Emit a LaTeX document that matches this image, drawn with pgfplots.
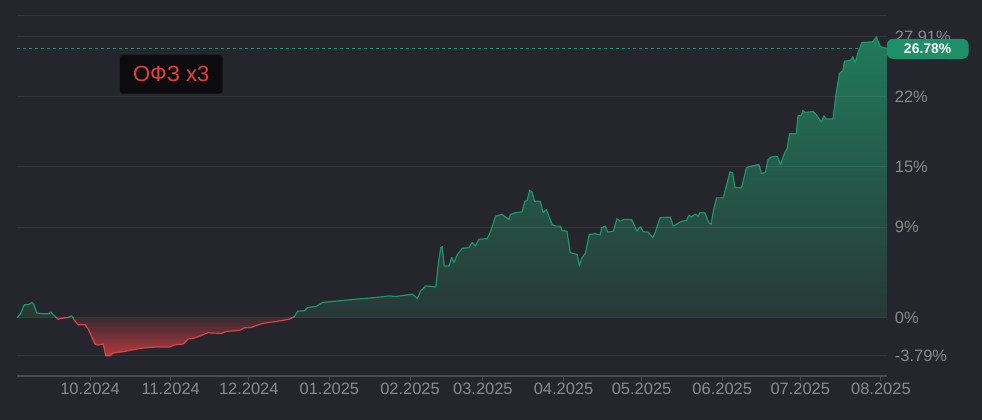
\documentclass[border=0pt]{standalone}
\usepackage{pgfplots}
\pgfplotsset{compat=1.18}
\usepackage{pgfplotstable}
\usepackage{fontspec}
\setmainfont{Liberation Sans}
\definecolor{bg}{HTML}{25262D}
\definecolor{axcol}{HTML}{4B4C52}
\definecolor{labcol}{HTML}{8A8B90}
\definecolor{gline}{HTML}{1D966B}
\definecolor{rline}{HTML}{DE4242}
\definecolor{gtop}{HTML}{217A5B}
\definecolor{gbot}{HTML}{283836}
\definecolor{rtop}{HTML}{3A2A30}
\definecolor{rbot}{HTML}{B23A3F}
\definecolor{badge}{HTML}{1D9068}
\definecolor{titlered}{HTML}{E8403A}
\definecolor{titlebg}{HTML}{0C0C0E}
% bbox of the area spans -3.79 .. 27.91; 0 lies at 25+50*3.79/31.70 = 30.98bp
\pgfdeclareverticalshading{areashade}{100bp}{color(0bp)=(rbot); color(25bp)=(rbot); color(30.9bp)=(rtop); color(31.05bp)=(gbot); color(75bp)=(gtop); color(100bp)=(gtop)}

\pgfplotstableread{
d v
2.0 0.0
3.2 0.35
4.7 1.27
6.4 1.30
7.7 1.50
8.3 1.34
9.6 0.45
11.5 0.38
14.0 0.38
14.9 0.55
15.9 0.28
17.8 -0.18
18.8 -0.08
21.3 0.0
23.0 0.18
23.9 -0.25
25.5 -0.71
28.1 -0.71
29.3 -1.14
31.9 -2.63
33.2 -2.73
35.1 -2.63
36.0 -3.79
37.7 -3.79
38.9 -3.52
42.8 -3.39
46.6 -3.19
50.4 -3.02
55.6 -2.92
60.7 -2.92
62.6 -2.70
65.8 -2.63
67.7 -2.13
70.2 -2.03
75.3 -1.51
80.5 -1.57
82.4 -1.37
87.5 -1.27
89.4 -1.01
92.0 -0.97
96.4 -0.57
101.6 -0.38
106.7 -0.15
108.6 0.12
109.8 0.64
112.4 0.67
113.7 1.01
116.9 1.11
119.4 1.51
123.3 1.61
132.2 1.83
139.9 2.00
145.0 2.16
147.6 2.10
152.0 2.26
153.9 2.33
155.8 1.90
157.1 2.66
159.1 3.15
162.9 3.05
163.9 5.40
164.8 6.96
165.4 7.06
166.1 5.13
168.0 5.13
169.0 5.97
169.9 5.47
171.2 6.29
173.1 6.89
175.6 6.96
176.9 7.48
178.1 7.12
179.5 7.80
182.7 7.85
184.0 8.60
185.9 10.09
188.4 10.26
191.0 9.76
191.6 10.26
193.5 10.43
196.1 10.52
197.1 11.58
198.0 11.65
199.0 12.67
199.9 12.47
200.9 11.58
203.1 11.58
204.1 10.43
205.4 10.75
207.6 9.27
208.9 9.10
210.8 9.10
211.4 8.67
213.3 8.60
214.6 6.46
217.2 6.29
218.1 5.13
219.1 5.97
220.4 6.39
221.9 8.28
224.2 8.34
226.1 8.21
226.7 8.94
228.0 9.10
229.0 8.50
231.2 8.60
232.5 9.83
233.8 9.59
235.1 9.76
238.2 9.76
240.2 8.60
241.5 9.04
242.7 8.54
244.6 8.50
246.2 7.95
247.2 8.44
249.1 9.93
253.0 9.99
254.2 9.10
257.4 9.59
259.3 9.66
260.2 10.19
261.2 9.99
262.5 10.30
263.8 10.09
264.4 10.43
266.3 10.43
267.9 9.43
268.7 9.27
269.6 10.58
270.8 11.91
273.4 11.91
276.0 14.50
277.0 14.39
277.9 12.95
280.4 12.90
282.3 14.88
283.6 15.05
287.1 15.21
288.1 14.32
289.6 14.45
290.6 15.71
291.9 15.98
294.2 16.04
295.4 15.21
297.0 16.37
298.0 16.86
298.9 18.29
301.5 18.29
302.1 20.07
303.4 20.07
304.0 20.60
304.9 20.40
307.9 20.50
309.2 20.17
311.1 19.44
312.1 20.07
313.0 19.74
315.6 19.77
316.8 22.32
318.1 24.30
319.4 24.56
320.0 25.52
322.3 25.55
323.2 25.95
324.1 25.35
325.1 26.28
326.7 27.37
330.9 27.43
332.2 27.91
333.8 26.94
336.25 26.78
}\datatable

\begin{document}
\pagecolor{bg}
\begin{tikzpicture}
\begin{axis}[
  at={(0,0)}, anchor=south west,
  scale only axis, width=872bp, height=361bp,
  xmin=2, xmax=336.25, ymin=-5.8, ymax=30,
  clip=false,
  axis on top,
  axis line style={draw=none},
  xtick={30,61,91,122,153,181,212,242,273,303,334},
  xticklabels={10.2024,11.2024,12.2024,01.2025,02.2025,03.2025,04.2025,05.2025,06.2025,07.2025,08.2025},
  xtick pos=bottom, xtick align=outside,
  xtick style={draw=axcol, line width=1bp},
  major tick length=5bp,
  xticklabel style={font=\fontsize{16.5bp}{18bp}\selectfont, text=labcol, inner sep=2bp},
  ytick={-3.79,0,9,15,22,27.91,30},
  yticklabels={-3.79\%,0\%,9\%,15\%,22\%,27.91\%,},
  yticklabel pos=right,
  ytick style={draw=none},
  yticklabel style={font=\fontsize{16.5bp}{18bp}\selectfont, text=labcol, anchor=west, inner sep=0pt, xshift=8bp},
  ymajorgrids, major grid style={white, opacity=0.07, line width=1bp},
]
\draw[gline, dash pattern=on 3bp off 3bp, line width=1bp] (axis cs:2,26.78) -- (axis cs:336.25,26.78);
\addplot[draw=none, shading=areashade] table[x=d,y=v] {\datatable} -- (axis cs:336.25,0) -- (axis cs:2,0) -- cycle;
\draw[axcol, line width=1.5bp] (rel axis cs:0,0) -- (rel axis cs:1,0);
\begin{scope}
\clip (axis cs:2,0) rectangle (axis cs:336.25,30);
\addplot[gline, line width=1.2bp, line join=round] table[x=d,y=v] {\datatable};
\end{scope}
\begin{scope}
\clip (axis cs:2,-5.8) rectangle (axis cs:336.25,0);
\addplot[rline, line width=1.2bp, line join=round] table[x=d,y=v] {\datatable};
\end{scope}
\end{axis}
\node[fill=badge, rounded corners=6bp, minimum width=82bp, minimum height=20bp, inner sep=0pt, text=white, font=\fontsize{14bp}{16bp}\selectfont\bfseries] at (913bp,328bp) {26.78\%};
\node[fill=titlebg, rounded corners=3bp, minimum width=103bp, minimum height=39bp, inner sep=0pt, text=titlered, font=\fontsize{22bp}{24bp}\selectfont] at (154.5bp,302.5bp) {ОФЗ x3};
\pgfresetboundingbox
\useasboundingbox (-14.5bp,-44bp) rectangle (967.5bp,377bp);
\end{tikzpicture}
\end{document}
